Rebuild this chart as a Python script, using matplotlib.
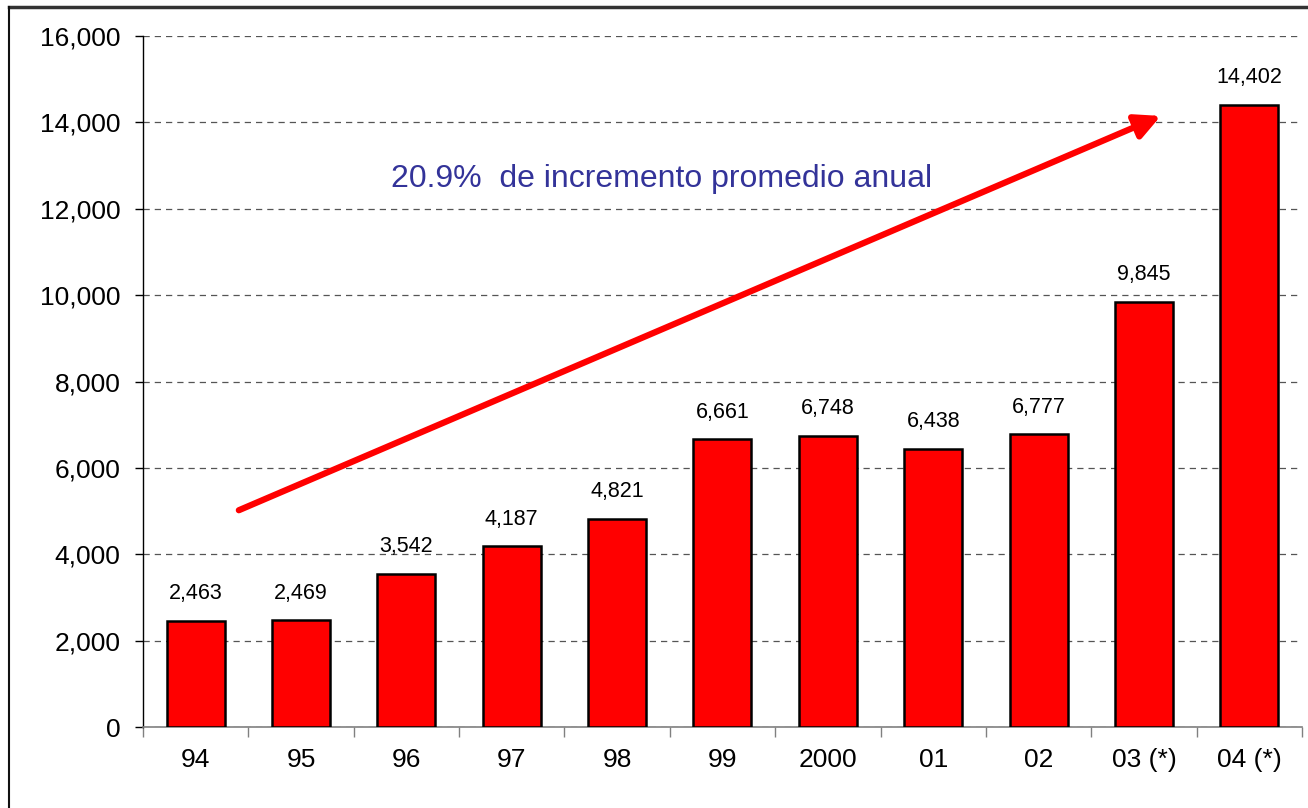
import matplotlib.pyplot as plt
from matplotlib.lines import Line2D
import numpy as np

#### data ####
years = ["94", "95", "96", "97", "98", "99", "2000", "01", "02", "03 (*)", "04 (*)"]
values = [2463, 2469, 3542, 4187, 4821, 6661, 6748, 6438, 6777, 9845, 14402]
value_labels = ["2,463", "2,469", "3,542", "4,187", "4,821", "6,661", "6,748", "6,438", "6,777", "9,845", "14,402"]
y_ticks = [0, 2000, 4000, 6000, 8000, 10000, 12000, 14000, 16000]

growth_text = "20.9%  de incremento promedio anual"
# trend arrow, start / end in data coords (category index, value)
arrow_start = (0.41, 5020)
arrow_end = (9.16, 14150)

plt.rcParams['font.family'] = ['Liberation Sans', 'DejaVu Sans']

fig = plt.figure(figsize=(13.08, 8.08), dpi=100)
ax = fig.add_axes([0.1093, 0.1002, 0.8861, 0.8552])

x = np.arange(len(years))
ax.bar(x, values, width=0.55, color="#ff0000", edgecolor="black", linewidth=1.8, zorder=3)

for xi, v, lab in zip(x, values, value_labels):
    ax.annotate(lab, (xi, v), xytext=(0, 12), textcoords="offset points",
                ha="center", va="bottom", fontsize=15.5)

ax.set_xlim(-0.5, len(years) - 0.5)
ax.set_ylim(0, 16000)
ax.set_yticks(y_ticks)
ax.set_yticklabels([f"{t:,}" for t in y_ticks], fontsize=19)
ax.set_xticks(x)
ax.set_xticklabels(years, fontsize=19)
ax.set_xticks(np.arange(len(years) + 1) - 0.5, minor=True)
ax.tick_params(axis="x", which="major", length=0, pad=15)
ax.tick_params(axis="x", which="minor", length=7, color="#808080", width=1)
ax.tick_params(axis="y", length=6, width=1, pad=10)

ax.yaxis.grid(True, linestyle=(0, (5, 4)), color="#555555", linewidth=0.9, zorder=0)
ax.set_axisbelow(True)
for s in ["top", "right"]:
    ax.spines[s].set_visible(False)
ax.spines["bottom"].set_color("#808080")
ax.spines["bottom"].set_linewidth(1.2)
ax.spines["left"].set_linewidth(1)

ax.annotate("", xy=arrow_end, xytext=arrow_start,
            arrowprops=dict(arrowstyle="-|>,head_length=1.5,head_width=0.75",
                            color="#ff0000", lw=4.5, shrinkA=0, shrinkB=0), zorder=5)
ax.text(4.42, 12680, growth_text, color="#333399", fontsize=23, ha="center", va="center")

# outer frame of the slide chart
fig.add_artist(Line2D([9 / 1308, 1], [1 - 7 / 808, 1 - 7 / 808], color="#333333", lw=2.5))
fig.add_artist(Line2D([9 / 1308, 9 / 1308], [0, 1 - 7 / 808], color="#111111", lw=1.5))

fig.savefig("out.png", dpi=100)
